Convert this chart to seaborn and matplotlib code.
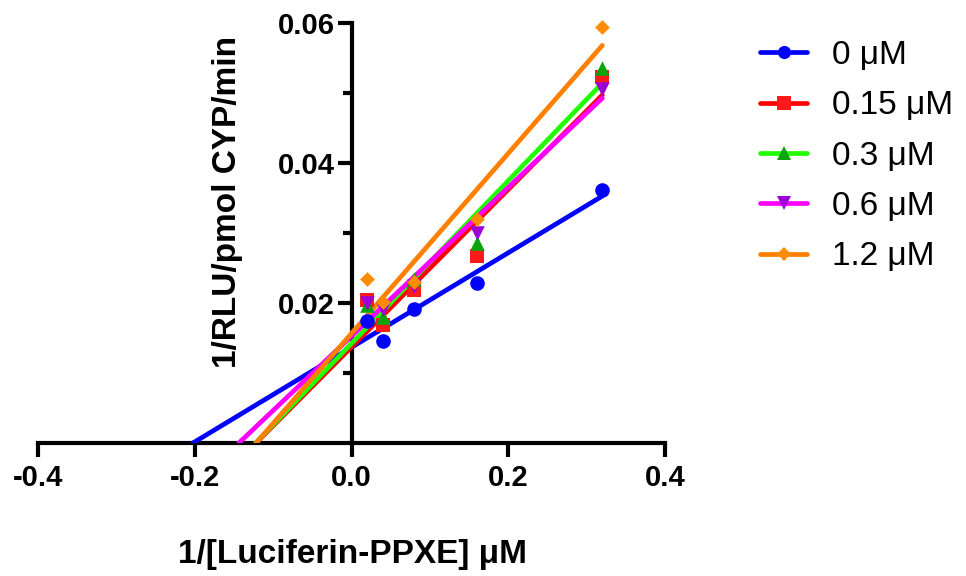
import numpy as np
import pandas as pd
import matplotlib
matplotlib.use("Agg")
import matplotlib.pyplot as plt
from matplotlib.lines import Line2D
import seaborn as sns

# ---- data ----
substrate_inv = [0.02, 0.04, 0.08, 0.16, 0.32]
series_labels = ["0 μM", "0.15 μM", "0.3 μM", "0.6 μM", "1.2 μM"]
v0_0 = [0.0174, 0.0146, 0.0192, 0.0229, 0.0361]
v0_015 = [0.0205, 0.0169, 0.0219, 0.0267, 0.0523]
v0_03 = [0.0197, 0.0180, 0.0235, 0.0285, 0.0535]
v0_06 = [0.0200, 0.0191, 0.0225, 0.0300, 0.0506]
v0_12 = [0.0234, 0.0202, 0.0230, 0.0320, 0.0594]
x_ticks = [-0.4, -0.2, 0.0, 0.2, 0.4]
x_ticklabels = ["-0.4", "-0.2", "0.0", "0.2", "0.4"]
y_ticks = [0.02, 0.04, 0.06]
y_ticklabels = ["0.02", "0.04", "0.06"]
y_minor = [0.01, 0.03, 0.05]

series_values = [v0_0, v0_015, v0_03, v0_06, v0_12]
line_colors = ["#0000FF", "#FF0000", "#22FF00", "#FF00FF", "#FF8000"]
marker_colors = ["#0000FF", "#FF1A1A", "#0AA50A", "#9B00D6", "#FF8C00"]
markers = ["o", "s", "^", "v", "D"]
msizes = [10.5, 10.5, 10.5, 10.5, 7.5]

sns.set_theme(style="white")
plt.rcParams["font.family"] = ["Liberation Sans", "DejaVu Sans"]
plt.rcParams["text.color"] = "black"
plt.rcParams["xtick.color"] = "black"
plt.rcParams["ytick.color"] = "black"
plt.rcParams["xtick.labelcolor"] = "black"
plt.rcParams["ytick.labelcolor"] = "black"

fig = plt.figure(figsize=(9.66, 5.76), dpi=100)
ax = fig.add_axes([38 / 966, 133 / 576, 627 / 966, 420 / 576])

# draw in reverse so blue ends up on top
for i in reversed(range(len(series_values))):
    y = np.array(series_values[i])
    x = np.array(substrate_inv)
    slope, intercept = np.polyfit(x, y, 1)
    x_start = -intercept / slope
    fit_df = pd.DataFrame({"x": [x_start, max(substrate_inv)],
                           "y": [0.0, slope * max(substrate_inv) + intercept]})
    sns.lineplot(data=fit_df, x="x", y="y", ax=ax, color=line_colors[i],
                 linewidth=3.4, solid_capstyle="round", zorder=3 + i * 0.01,
                 legend=False)
    pts = pd.DataFrame({"x": x, "y": y})
    sns.scatterplot(data=pts, x="x", y="y", ax=ax, marker=markers[i],
                    color=marker_colors[i], s=msizes[i] ** 2, linewidth=0,
                    zorder=4 + i * 0.01, legend=False, clip_on=False)

ax.set_xlim(-0.4, 0.4)
ax.set_ylim(0, 0.06)
ax.spines["left"].set_position(("data", 0))
ax.spines["bottom"].set_position(("data", 0))
ax.spines["top"].set_visible(False)
ax.spines["right"].set_visible(False)
for s in ("left", "bottom"):
    ax.spines[s].set_linewidth(3)
    ax.spines[s].set_color("black")
    ax.spines[s].set_capstyle("projecting")

ax.set_xticks(x_ticks)
ax.set_xticklabels(x_ticklabels)
ax.set_yticks(y_ticks)
ax.set_yticklabels(y_ticklabels)
ax.set_yticks(y_minor, minor=True)
ax.tick_params(axis="both", which="major", direction="out", length=10, width=3,
               color="black", labelcolor="black", labelsize=21,
               bottom=True, left=True)
ax.tick_params(axis="y", which="major", pad=2)
ax.tick_params(axis="x", which="major", pad=5)
ax.tick_params(axis="y", which="minor", direction="out", length=6.5, width=3,
               color="black", left=True)
for lab in ax.get_xticklabels() + ax.get_yticklabels():
    lab.set_fontweight("bold")
ax.set_xlabel("")
ax.set_ylabel("")
ax.grid(False)
ax.patch.set_alpha(0)

fig.text(352 / 966, 13 / 576, "1/[Luciferin-PPXE] μM", ha="center",
         va="baseline", fontsize=24, fontweight="bold", color="black")
fig.text(236 / 966, (576 - 202) / 576, "1/RLU/pmol CYP/min", ha="center",
         va="baseline", rotation=90, rotation_mode="anchor", fontsize=24,
         fontweight="bold", color="black")

handles = [Line2D([0], [0], color=line_colors[i], linewidth=3.4,
                  marker=markers[i], markersize=msizes[i] * 0.9,
                  markerfacecolor=marker_colors[i], markeredgewidth=0)
           for i in range(len(series_labels))]
leg = fig.legend(handles, series_labels, loc="upper left",
                 bbox_to_anchor=(760 / 966, (576 - 40) / 576), frameon=False,
                 fontsize=24, handlelength=1.41, handletextpad=0.75,
                 labelspacing=0.58, borderpad=0, borderaxespad=0)
for t in leg.get_texts():
    t.set_color("black")

fig.savefig("out.png", dpi=100)
